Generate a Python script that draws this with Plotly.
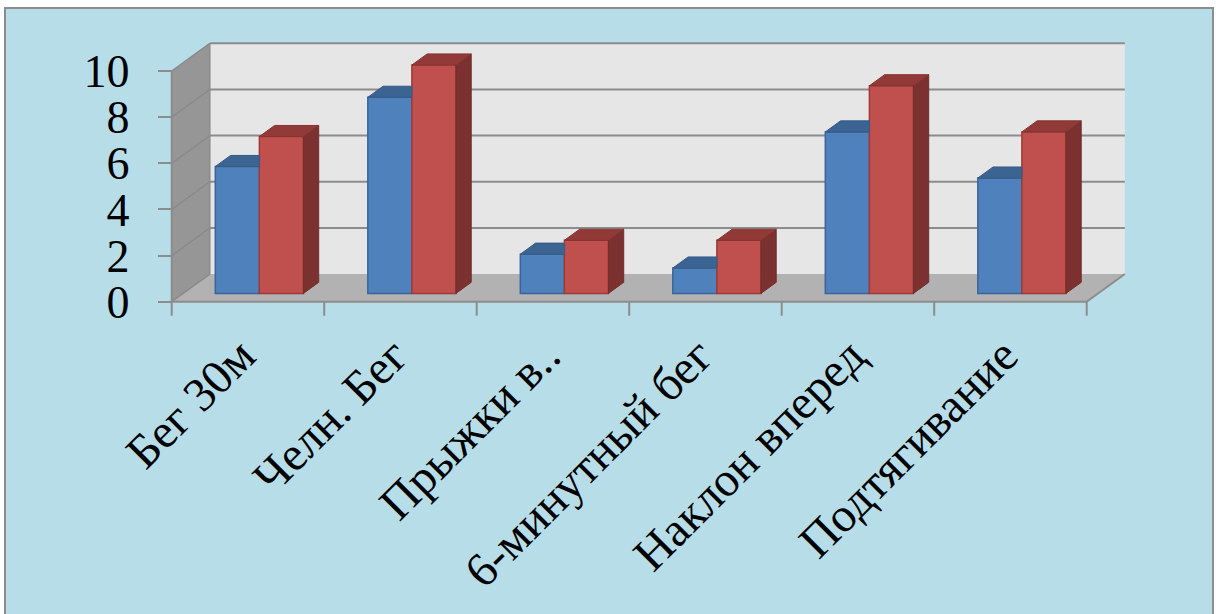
import plotly.graph_objects as go

# ---------------- data ----------------
categories = ["Бег 30м", "Челн. Бег", "Прыжки в..", "6-минутный бег", "Наклон вперед", "Подтягивание"]
series_blue = [5.5, 8.5, 1.7, 1.1, 7.0, 5.0]
series_red = [6.8, 9.9, 2.3, 2.3, 9.0, 7.0]
y_ticks = [0, 2, 4, 6, 8, 10]

# ---------------- geometry (3D look) ----------------
W_PX, H_PX = 1216, 614
PL, PR, PT, PB = 140, 1150, 30, 320          # plot area in pixels
X_PX_PER_UNIT = 152.5
Y_PX_PER_UNIT = 23.07
X0_PX = 171.7                                  # x = -0.5 (front left)
Y0_PX = 301.7                                  # y = 0 (front)

xmin = -0.5 - (X0_PX - PL) / X_PX_PER_UNIT
xmax = xmin + (PR - PL) / X_PX_PER_UNIT
ymin = -(PB - Y0_PX) / Y_PX_PER_UNIT
ymax = ymin + (PB - PT) / Y_PX_PER_UNIT

DX, DY = 0.25, 1.2          # depth offset of the back wall (data units)
F0, F1 = 0.3, 0.7           # bar depth position (fraction of full depth)
BW = 0.289                  # bar width (category units)
LABEL_SHIFT = -0.045        # horizontal offset of category labels
n = len(categories)
ymax_axis = 10

def px2paper_x(px):
    return (px - PL) / (PR - PL)

def px2paper_y(py):
    return (PB - py) / (PB - PT)

fig = go.Figure()

# front faces of bars (through bar traces)
blue_x = [i + F0 * DX - BW / 2 for i in range(n)]
red_x = [i + F0 * DX + BW / 2 for i in range(n)]
fig.add_trace(go.Bar(x=blue_x, y=series_blue, base=F0 * DY, width=BW,
                     marker=dict(color="#4f81bd", line=dict(color="#3a6497", width=1.5)),
                     name="blue", showlegend=False, hoverinfo="skip"))
fig.add_trace(go.Bar(x=red_x, y=series_red, base=F0 * DY, width=BW,
                     marker=dict(color="#c0504d", line=dict(color="#9c3b38", width=1.5)),
                     name="red", showlegend=False, hoverinfo="skip"))

ddx = (F1 - F0) * DX
ddy = (F1 - F0) * DY

# top faces of blue bars (clipped where hidden by red bar)
bx, by = [], []
for i, v in enumerate(series_blue):
    xl = i + F0 * DX - BW
    xr = i + F0 * DX
    yb = v + F0 * DY
    bx += [xl, xr, xr, xl + ddx, xl, None]
    by += [yb, yb, yb + ddy, yb + ddy, yb, None]
fig.add_trace(go.Scatter(x=bx, y=by, fill="toself", mode="lines",
                         fillcolor="#3c6493", line=dict(color="#365b88", width=1),
                         showlegend=False, hoverinfo="skip"))

# top and side faces of red bars
tx, ty, sx, sy = [], [], [], []
for i, v in enumerate(series_red):
    xl = i + F0 * DX
    xr = xl + BW
    yb = v + F0 * DY
    tx += [xl, xr, xr + ddx, xl + ddx, xl, None]
    ty += [yb, yb, yb + ddy, yb + ddy, yb, None]
    sx += [xr, xr, xr + ddx, xr + ddx, xr, None]
    sy += [F0 * DY, yb, yb + ddy, F1 * DY, F0 * DY, None]
fig.add_trace(go.Scatter(x=sx, y=sy, fill="toself", mode="lines",
                         fillcolor="#7b312f", line=dict(color="#722d2b", width=1),
                         showlegend=False, hoverinfo="skip"))
fig.add_trace(go.Scatter(x=tx, y=ty, fill="toself", mode="lines",
                         fillcolor="#913a37", line=dict(color="#853431", width=1),
                         showlegend=False, hoverinfo="skip"))

shapes = []
# chart background with border
shapes.append(dict(type="rect", xref="paper", yref="paper", layer="below",
                   x0=px2paper_x(5), x1=px2paper_x(1213), y0=px2paper_y(640), y1=px2paper_y(8),
                   fillcolor="#b7dde8", line=dict(color="#8c8c8c", width=2)))

grid_col = "#8c8c8c"
xl_f, xr_f = -0.5, n - 0.5
# back wall
shapes.append(dict(type="path", layer="below",
                   path=f"M {xl_f+DX},{DY} L {xr_f+DX},{DY} L {xr_f+DX},{ymax_axis+DY} L {xl_f+DX},{ymax_axis+DY} Z",
                   fillcolor="#e6e6e6", line=dict(width=0)))
# side wall
shapes.append(dict(type="path", layer="below",
                   path=f"M {xl_f},0 L {xl_f},{ymax_axis} L {xl_f+DX},{ymax_axis+DY} L {xl_f+DX},{DY} Z",
                   fillcolor="#969696", line=dict(width=0)))
# floor
shapes.append(dict(type="path", layer="below",
                   path=f"M {xl_f},0 L {xr_f},0 L {xr_f+DX},{DY} L {xl_f+DX},{DY} Z",
                   fillcolor="#b2b2b2", line=dict(width=0)))
# gridlines on back wall and side wall
for t in y_ticks:
    if t > 0:
        shapes.append(dict(type="line", layer="below", x0=xl_f + DX, x1=xr_f + DX, y0=t + DY, y1=t + DY,
                           line=dict(color=grid_col, width=2)))
    shapes.append(dict(type="line", layer="below", x0=xl_f, x1=xl_f + DX, y0=t, y1=t + DY,
                       line=dict(color="#8a8a8a", width=1.5)))
# back wall left edge
shapes.append(dict(type="line", layer="below", x0=xl_f + DX, x1=xl_f + DX, y0=DY, y1=ymax_axis + DY,
                   line=dict(color=grid_col, width=1.5)))
# floor front edge and right edge
shapes.append(dict(type="line", layer="below", x0=xl_f, x1=xr_f, y0=0, y1=0,
                   line=dict(color=grid_col, width=2)))
shapes.append(dict(type="line", layer="below", x0=xr_f, x1=xr_f + DX, y0=0, y1=DY,
                   line=dict(color=grid_col, width=2)))
# front vertical axis line
shapes.append(dict(type="line", layer="below", x0=xl_f, x1=xl_f, y0=0, y1=ymax_axis,
                   line=dict(color=grid_col, width=2)))
# category boundary tick marks
tick_len = 14 / Y_PX_PER_UNIT
for k in range(n + 1):
    shapes.append(dict(type="line", layer="below", x0=k - 0.5, x1=k - 0.5, y0=0, y1=-tick_len,
                       line=dict(color=grid_col, width=2)))

font_family = "Liberation Serif, Times New Roman, serif"

fig.update_layout(
    width=W_PX, height=H_PX,
    margin=dict(l=PL, r=W_PX - PR, t=PT, b=H_PX - PB, pad=0),
    paper_bgcolor="white",
    plot_bgcolor="rgba(0,0,0,0)",
    barmode="overlay",
    showlegend=False,
    shapes=shapes,
    xaxis=dict(range=[xmin, xmax], domain=[0, 1], anchor="free",
               position=px2paper_y(Y0_PX),
               tickmode="array", tickvals=[i + LABEL_SHIFT for i in range(n)], ticktext=categories,
               tickangle=-45, ticks="", showline=False, showgrid=False, zeroline=False,
               tickfont=dict(family=font_family, size=48, color="black"),
               ticklabelstandoff=15, automargin=False, fixedrange=True),
    yaxis=dict(range=[ymin, ymax], domain=[0, 1], anchor="free",
               position=px2paper_x(X0_PX),
               tickmode="array", tickvals=y_ticks, ticktext=[str(t) for t in y_ticks],
               ticks="outside", ticklen=14, tickwidth=2, tickcolor=grid_col,
               showline=False, showgrid=False, zeroline=False,
               tickfont=dict(family=font_family, size=46, color="black"),
               ticklabelstandoff=19, automargin=False, fixedrange=True),
)

fig.write_html("out.html")
